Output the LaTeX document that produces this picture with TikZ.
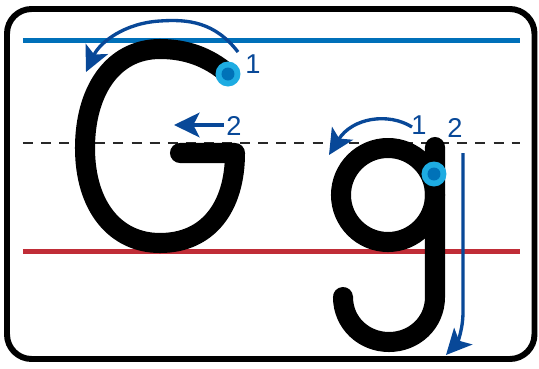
\documentclass[tikz,border=0pt]{standalone}
\usepackage{fontspec}
\setmainfont{Liberation Sans}
\usepackage{tikz}
\usetikzlibrary{arrows.meta}
\usepackage{xcolor}
\definecolor{hintnavy}{RGB}{8,72,152}
\definecolor{topblue}{RGB}{0,112,185}
\definecolor{basered}{RGB}{192,45,55}
\definecolor{dotcyan}{RGB}{30,172,226}
\definecolor{dotblue}{RGB}{0,114,184}
\definecolor{midgray}{RGB}{40,40,40}
\tikzset{
  card/.style={draw=black, line width=3.4pt, rounded corners=14pt, fill=white},
  guide/.style={line width=2.9pt},
  midguide/.style={line width=1.4pt, midgray, dash pattern=on 5.7pt off 4.6pt},
  letter/.style={line width=11.4pt, line cap=round, line join=round},
  hint/.style={-{Stealth[length=14.5pt, width=14pt, inset=3.5pt]}, line width=1.9pt, hintnavy},
  stepnum/.style={text=hintnavy, font=\fontsize{15.5}{15.5}\selectfont, inner sep=0pt},
}

\begin{document}
\begin{tikzpicture}[x=0.02cm, y=-0.02cm]
\useasboundingbox (0,0) rectangle (539,369);
\draw[card] (7,9) rectangle (534.5,359);
% guide lines
\draw[guide, topblue] (23,40.5) -- (520,40.5);
\draw[midguide] (23,143) -- (520,143);
\draw[guide, basered] (23,251.5) -- (520,251.5);
% capital G
\draw[letter] (227,73) .. controls (208,57) and (186,49) .. (160,49)
  .. controls (112,49) and (85,92) .. (85,148)
  .. controls (85,206) and (115,243) .. (160,243)
  .. controls (208,243) and (235,207) .. (235,153)
  -- (180,153);
% small g
\draw[letter] (388,195) circle[radius=47];
\draw[letter] (435,147) -- (435,297)
  .. controls (435,323) and (414,342) .. (389,342)
  .. controls (364,342) and (343,323) .. (343,297);
% start dots
\fill[dotcyan] (228,74) circle[radius=12.5];
\fill[dotblue] (228,74) circle[radius=6.5];
\fill[dotcyan] (434,174) circle[radius=12.5];
\fill[dotblue] (434,174) circle[radius=6.5];
% stroke hints
\draw[hint] (238,52) .. controls (215,22) and (188,19) .. (160,21)
  .. controls (125,23) and (100,42) .. (86,72);
\draw[hint] (224,125) -- (174,125);
\draw[hint] (412,127) .. controls (388,112) and (352,118) .. (329,155);
\draw[hint] (463,153) -- (463,312) .. controls (463,330) and (457,343) .. (446,355);
\node[stepnum] (Gone) at (253,64) {1};
\node[stepnum] (Gtwo) at (234,126) {2};
\node[stepnum] (gone) at (419,125) {1};
\node[stepnum] (gtwo) at (455,128) {2};
\end{tikzpicture}
\end{document}
